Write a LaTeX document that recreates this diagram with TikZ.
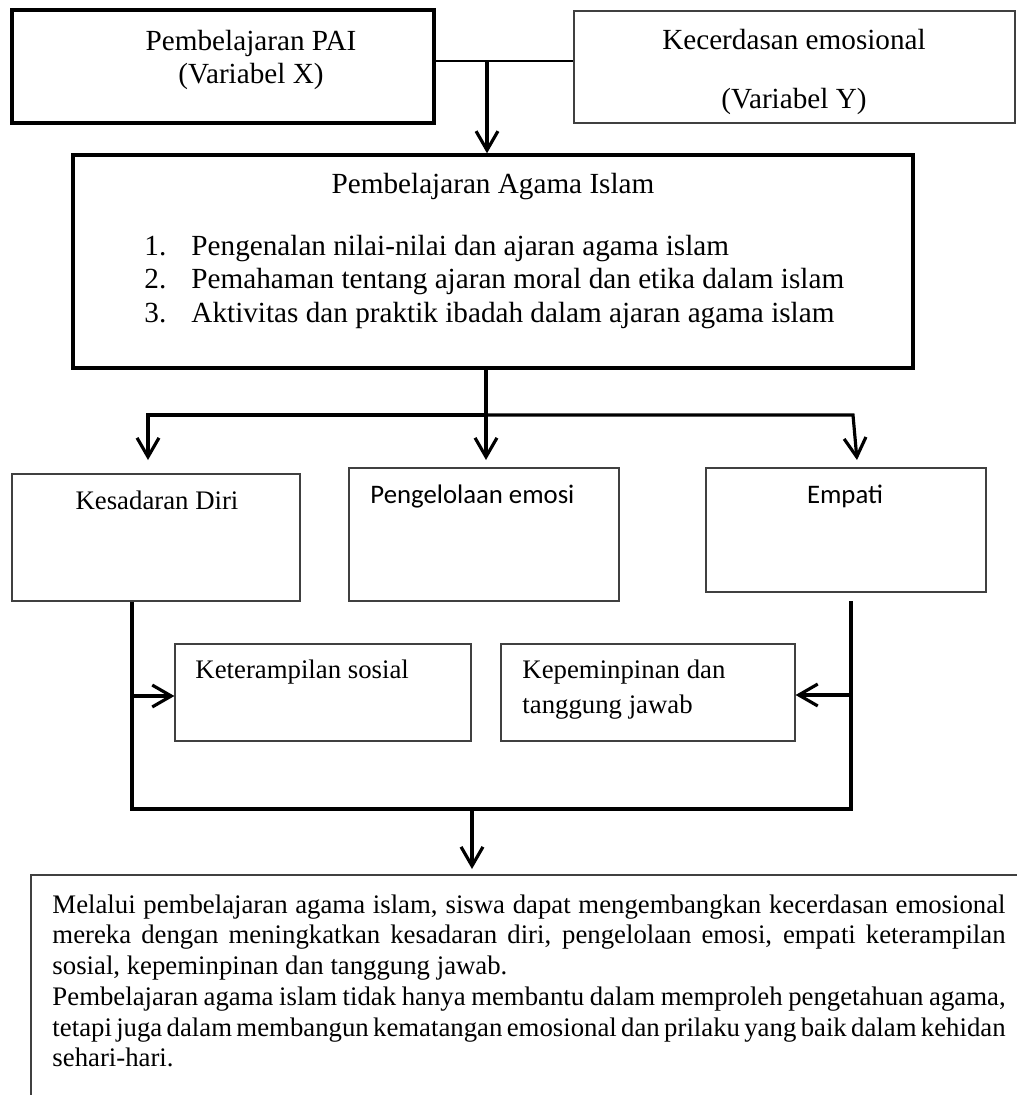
\documentclass[tikz,border=0pt]{standalone}
\usepackage{fontspec}
\setmainfont{Liberation Serif}
\newfontfamily\calibri{Carlito}
\usetikzlibrary{arrows.meta,fit}
\begin{document}
\begin{tikzpicture}[x=0.411pt,y=-0.411pt,
  thickbox/.style={draw=black,line width=1.4pt,inner sep=0pt},
  thinbox/.style={draw=black!75,line width=0.5pt,inner sep=0pt},
  conn/.style={line width=1.3pt,line join=miter},
  thinconn/.style={line width=0.85pt},
  arr/.style={conn,-{Straight Barb[length=7.8pt,width=9pt]}},
  big/.style={font=\fontsize{12}{13.8}\selectfont,inner sep=0pt,anchor=base},
  small/.style={font=\fontsize{11}{12.65}\selectfont,inner sep=0pt,anchor=base},
]
\useasboundingbox (0,0) rectangle (1017,1095);
% boxes
\node[thickbox,fit={(12,10)(434,123)}] (pai) {};
\node[thinbox,fit={(574,11)(1015,123)}] (ked) {};
\node[thickbox,fit={(73,155)(913,368)}] (agama) {};
\node[thinbox,fit={(12,474)(300,601)}] (kes) {};
\node[thinbox,fit={(349,468)(619,601)}] (pen) {};
\node[thinbox,fit={(706,468)(986,592)}] (emp) {};
\node[thinbox,fit={(175,644)(471,741)}] (ket) {};
\node[thinbox,fit={(501,644)(795,741)}] (kep) {};
\begin{scope}
\clip (0,0) rectangle (1017,1095);
\node[thinbox,fit={(31,875)(1040,1120)}] (concl) {};
\end{scope}
% texts
\node[big] (paiA) at (251,50) {Pembelajaran PAI};
\node[big] (paiB) at (251,83) {(Variabel X)};
\node[big] (kedA) at (794,49) {Kecerdasan emosional};
\node[big] (kedB) at (794,108) {(Variabel Y)};
\node[big] (agT) at (493,193) {Pembelajaran Agama Islam};
\node[big,anchor=base west] (n1) at (144,255) {1.};
\node[big,anchor=base west] (n2) at (144,288) {2.};
\node[big,anchor=base west] (n3) at (144,322) {3.};
\node[big,anchor=base west] (i1) at (191,255) {Pengenalan nilai-nilai dan ajaran agama islam};
\node[big,anchor=base west] (i2) at (191,288) {Pemahaman tentang ajaran moral dan etika dalam islam};
\node[big,anchor=base west] (i3) at (191,322) {Aktivitas dan praktik ibadah dalam ajaran agama islam};
\node[small] (kesT) at (157,509) {Kesadaran Diri};
\node[small,anchor=base west,font=\calibri\fontsize{11}{12.65}\selectfont] (penT) at (370,503) {Pengelolaan emosi};
\node[small,font=\calibri\fontsize{11}{12.65}\selectfont] (empT) at (845,503) {Empati};
\node[small,anchor=base west] (ketT) at (195,678) {Keterampilan sosial};
\node[small,anchor=base west] (kepA) at (522,678) {Kepeminpinan dan};
\node[small,anchor=base west] (kepB) at (522,713) {tanggung jawab};
\node[small,anchor=north west,text width=391.7pt,align=justify] (conclT) at (52,894) {\spaceskip=.25em plus .35em minus .16em\hyphenpenalty=10000\exhyphenpenalty=10000\tolerance=9999\hbadness=10000 Melalui pembelajaran agama islam, siswa dapat mengembangkan kecerdasan emosional\linebreak mereka dengan meningkatkan kesadaran diri, pengelolaan emosi, empati keterampilan\linebreak sosial, kepeminpinan dan tanggung jawab.\par
Pembelajaran agama islam tidak hanya membantu dalam memproleh pengetahuan agama,\linebreak tetapi juga dalam membangun kematangan emosional dan prilaku yang baik dalam kehidan\linebreak sehari-hari.};
% connectors
\coordinate (j1) at (487,61);
\draw[thinconn] (pai.east |- j1) -- (ked.west |- j1);
\draw[arr] (j1) -- (agama.north -| j1);
\coordinate (j2) at (486,415);
\coordinate (jl) at (148,415);
\coordinate (jr) at (853,415);
\coordinate (al) at (148,460);
\coordinate (am) at (486,460);
\coordinate (ar) at (857,460);
\draw[arr] (agama.south -| j2) -- (am);
\draw[arr] (j2) -- (jl) -- (al);
\draw[arr] (j2) -- (jr) -- (ar);
\coordinate (bl) at (132,809);
\coordinate (br) at (851,809);
\coordinate (rt) at (851,601);
\draw[conn] (kes.south -| bl) -- (bl) -- (br) -- (rt);
\coordinate (bm) at (472,809);
\coordinate (bme) at (472,869);
\draw[arr] (bm) -- (bme);
\coordinate (la) at (132,696);
\coordinate (ra) at (851,695);
\draw[arr] (la) -- (ket.west |- la);
\draw[arr] (ra) -- (kep.east |- ra);
\end{tikzpicture}
\end{document}
